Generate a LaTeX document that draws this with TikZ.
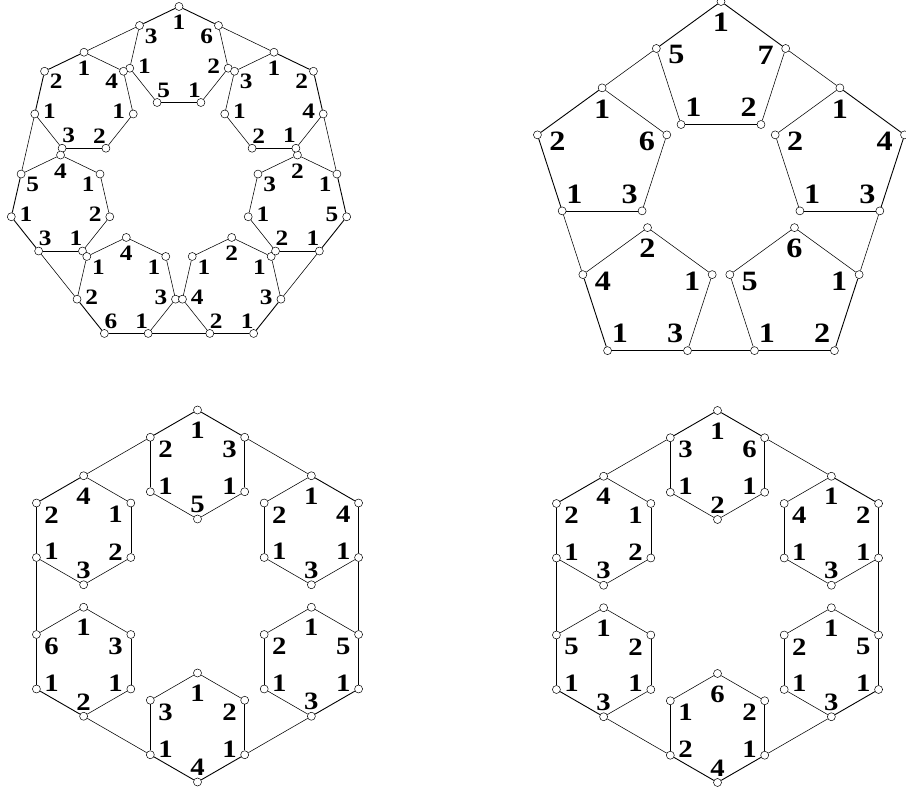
\documentclass[tikz,border=0pt]{standalone}
\usepackage{fontspec}
\setmainfont{Liberation Serif}[FakeStretch=1.15]
\usetikzlibrary{calc}
% #1 prefix, #2 ring centre, #3 sides, #4 ring radius, #5 polygon radius,
% #6 label radius, #7 label vertical shift, #8 font size, #9 label lists
\newcommand{\ringfig}[9]{%
  \pgfmathtruncatemacro{\rfn}{#3}%
  \pgfmathtruncatemacro{\rfm}{#3-1}%
  \def\rffont{\bfseries\fontsize{#8pt}{#8pt}\selectfont}%
  \foreach \labs [count=\k from 0] in {#9}{%
    \coordinate (#1c\k) at ($#2+({90+\k*360/#3}:#4)$);
    \foreach \t [count=\j from 0] in \labs {%
      \node[vtx] (#1\k-\j) at ($(#1c\k)+({90+\j*360/#3}:#5)$) {};
      \node[lab] (#1l\k-\j)
        at ($(#1c\k)+({90+\j*360/#3}:#6)+(0,#7)$) {\rffont\t};
    }
  }%
  \foreach \k in {0,...,\rfm}{%
    \pgfmathtruncatemacro{\km}{mod(\k+\rfm,\rfn)}%
    \pgfmathtruncatemacro{\kn}{mod(\k+1,\rfn)}%
    \foreach \j in {0,...,\rfm}{%
      \pgfmathtruncatemacro{\jn}{mod(\j+1,\rfn)}%
      \ifnum\j=\k\relax \def\ew{outeredge}\else\ifnum\j=\km\relax\def\ew{outeredge}\else\def\ew{inneredge}\fi\fi
      \draw[\ew] (#1\k-\j) -- (#1\k-\jn);
    }
    \draw[linkedge] (#1\k-\kn) -- (#1\kn-\k);
  }%
}
\begin{document}
\begin{tikzpicture}[x=1pt,y=1pt,
  vtx/.style={circle,draw,fill=white,inner sep=0pt,minimum size=8pt,line width=0.5pt},
  lab/.style={inner sep=0pt},
  outeredge/.style={line width=0.9pt},
  inneredge/.style={line width=0.55pt},
  linkedge/.style={line width=0.55pt}]
\useasboundingbox (0,0) rectangle (906,793);
% heptagons
\ringfig{H}{(179,614.5)}{7}{121.5}{50.5}{35.5}{-1}{22}{%
  {1,3,1,5,1,2,6},{1,2,1,3,2,1,4},{4,5,1,3,1,2,1},{4,1,2,6,1,3,1},%
  {2,1,4,2,1,3,1},{2,3,1,2,1,5,1},{1,3,1,2,1,4,2}}
% pentagons
\ringfig{P}{(721,598.5)}{5}{125}{68}{47}{0}{28}{%
  {1,5,1,2,7},{1,2,1,3,6},{2,4,1,3,1},{6,5,1,2,1},{1,2,1,3,4}}
% hexagons, left
\ringfig{L}{(197.5,197)}{6}{131.5}{54.5}{37}{-3}{25}{%
  {1,2,1,5,1,3},{4,2,1,3,2,1},{1,6,1,2,1,3},{1,3,1,4,1,2},{1,2,1,3,1,5},{1,2,1,3,1,4}}
% hexagons, right
\ringfig{R}{(717.5,196.5)}{6}{131.5}{54.5}{37}{-3}{25}{%
  {1,3,1,2,1,6},{4,2,1,3,2,1},{1,5,1,3,1,2},{6,1,2,4,1,2},{1,2,1,3,1,5},{1,4,1,3,1,2}}
\end{tikzpicture}
\end{document}
